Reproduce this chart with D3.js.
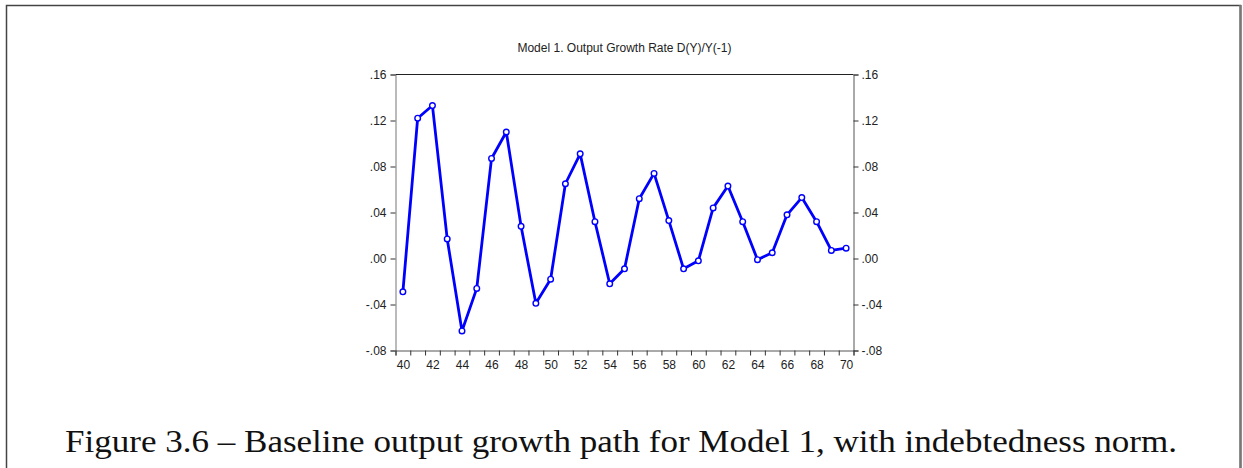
<!DOCTYPE html>
<html>
<head>
<meta charset="utf-8">
<script src="https://cdn.jsdelivr.net/npm/d3@7"></script>
<style>
  body { margin: 0; background: #fff; }
  svg { display: block; }
</style>
</head>
<body>
<svg id="chart" width="1243" height="468"></svg>
<script>
// years 1940..1970 shown as two-digit labels
var years = d3.range(40, 71);
var growth = [-0.029, 0.122, 0.133, 0.017, -0.063, -0.026, 0.087, 0.110, 0.028,
  -0.039, -0.018, 0.065, 0.091, 0.032, -0.022, -0.009, 0.052, 0.074, 0.033,
  -0.009, -0.002, 0.044, 0.063, 0.032, -0.001, 0.005, 0.038, 0.053, 0.032,
  0.007, 0.009];
var yTicks = [0.16, 0.12, 0.08, 0.04, 0.00, -0.04, -0.08];
var xLabels = d3.range(40, 71, 2);
var title = "Model 1. Output Growth Rate D(Y)/Y(-1)";
var caption = "Figure 3.6 \u2013 Baseline output growth path for Model 1, with indebtedness norm.";

var svg = d3.select("#chart");

// page frame
svg.append("path")
  .attr("d", "M6.5,470V5.5H1240.5V470")
  .attr("fill", "none")
  .attr("stroke", "#444")
  .attr("stroke-width", 1.5);
svg.append("line")
  .attr("x1", 1240.5).attr("x2", 1240.5).attr("y1", 5).attr("y2", 470)
  .attr("stroke", "#777").attr("stroke-width", 2.5);

var m = { left: 395.5, right: 853.5, top: 74.5, bottom: 350.5 };

var x = d3.scaleLinear().domain([39.5, 70.5]).range([m.left, m.right]);
var y = d3.scaleLinear().domain([-0.08, 0.16]).range([m.bottom, m.top]);

function fmt(v) {
  var s = Math.abs(v).toFixed(2).replace(/^0/, "");
  return (v < 0 ? "-" : "") + s;
}

// box top line
svg.append("line")
  .attr("x1", m.left).attr("x2", m.right)
  .attr("y1", m.top).attr("y2", m.top)
  .attr("stroke", "#222").attr("stroke-width", 1);

// left axis
var left = svg.append("g")
  .attr("transform", "translate(" + m.left + ",0)")
  .call(d3.axisLeft(y).tickValues(yTicks).tickFormat(fmt).tickSize(5).tickPadding(4));
// right axis
var right = svg.append("g")
  .attr("transform", "translate(" + m.right + ",0)")
  .call(d3.axisRight(y).tickValues(yTicks).tickFormat(fmt).tickSize(5).tickPadding(3));
// bottom axis: ticks between years, labels every second year
var bottom = svg.append("g")
  .attr("transform", "translate(0," + m.bottom + ")")
  .call(d3.axisBottom(x).tickValues(d3.range(39.5, 71, 1)).tickFormat("").tickSize(5));
svg.append("g")
  .attr("transform", "translate(0," + m.bottom + ")")
  .call(d3.axisBottom(x).tickValues(xLabels).tickFormat(d3.format("d")).tickSize(0).tickPadding(10))
  .call(function(g) { g.select(".domain").remove(); });

svg.selectAll(".domain").attr("stroke", "#555");
svg.selectAll(".tick line").attr("stroke", "#333");
svg.selectAll(".tick text")
  .attr("font-family", "Liberation Sans, Arial, sans-serif")
  .attr("font-size", 12)
  .attr("fill", "#222");
left.select(".domain").attr("stroke", "#777");

// title
svg.append("text")
  .attr("x", (m.left + m.right) / 2)
  .attr("y", 52)
  .attr("text-anchor", "middle")
  .attr("font-family", "Liberation Sans, Arial, sans-serif")
  .attr("font-size", 12)
  .attr("fill", "#222")
  .text(title);

// series
var line = d3.line()
  .x(function(d, i) { return x(years[i]); })
  .y(function(d) { return y(d); });

svg.append("path")
  .datum(growth)
  .attr("d", line)
  .attr("fill", "none")
  .attr("stroke", "#0000ff")
  .attr("stroke-width", 2.8)
  .attr("stroke-linejoin", "round");

svg.selectAll(".pt")
  .data(growth)
  .enter()
  .append("circle")
  .attr("class", "pt")
  .attr("cx", function(d, i) { return x(years[i]); })
  .attr("cy", function(d) { return y(d); })
  .attr("r", 2.8)
  .attr("fill", "#fff")
  .attr("stroke", "#0000ff")
  .attr("stroke-width", 1.4);

// caption
var cap = svg.append("text")
  .attr("x", 65)
  .attr("y", 452)
  .attr("font-family", "Liberation Serif, 'DejaVu Serif', serif")
  .attr("font-size", 31)
  .attr("fill", "#111")
  .text(caption);
cap.attr("textLength", 1112).attr("lengthAdjust", "spacingAndGlyphs");
</script>
</body>
</html>
